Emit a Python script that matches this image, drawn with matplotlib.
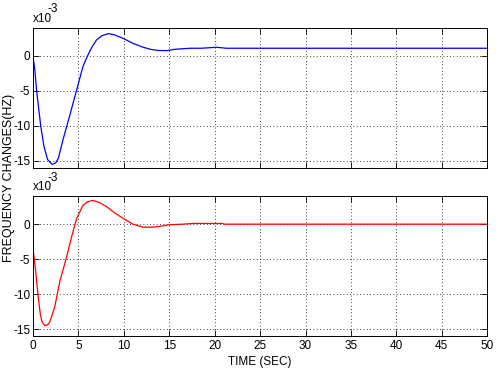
import matplotlib
matplotlib.use("Agg")
import matplotlib.pyplot as plt
from matplotlib.ticker import FuncFormatter
from matplotlib import font_manager

names = {f.name for f in font_manager.fontManager.ttflist}
narrow = "Liberation Sans Narrow" if "Liberation Sans Narrow" in names else "Liberation Sans"

# Time (s) and frequency change (Hz)
t_top = [0, 0.2, 0.4, 0.85, 1.2, 1.6, 2.1, 2.5, 2.8, 3.3, 4.07, 4.8, 5.5, 6.0, 6.5, 7.0,
         7.6, 8.3, 9.0, 9.95, 11.0, 12.0, 12.9, 13.8, 14.7, 15.6, 17.3, 18.5, 20.2, 21.3, 30, 40, 50]
f_top = [0, -2.0, -5.0, -10.0, -12.9, -14.8, -15.5, -15.3, -14.6, -12.0, -8.4, -4.9, -1.5, 0.0, 1.3, 2.3,
         2.9, 3.2, 3.0, 2.5, 1.8, 1.3, 0.95, 0.78, 0.76, 0.95, 1.1, 1.1, 1.24, 1.1, 1.1, 1.1, 1.1]
f_top = [v * 1e-3 for v in f_top]

t_bot = [0, 0.05, 0.3, 0.55, 0.8, 1.0, 1.3, 1.6, 1.85, 2.4, 2.95, 3.7, 4.25, 4.8, 5.5, 6.0, 6.6,
         7.3, 8.1, 9.0, 9.95, 11.0, 12.0, 12.9, 13.8, 14.9, 16.5, 17.65, 20.9, 21.0, 30, 40, 50]
f_bot = [-2.3, -4.0, -6.8, -10.1, -12.8, -14.0, -14.5, -14.4, -14.0, -11.8, -8.2, -4.7, -1.8, 0.8, 2.7, 3.2, 3.4,
         3.1, 2.5, 1.6, 0.8, 0.0, -0.4, -0.45, -0.35, -0.1, 0.0, 0.1, 0.1, 0.0, 0.0, 0.0, 0.0]
f_bot = [v * 1e-3 for v in f_bot]

x_ticks = [0, 5, 10, 15, 20, 25, 30, 35, 40, 45, 50]
y_ticks = [-0.015, -0.010, -0.005, 0.0]

fig = plt.figure(figsize=(5.03, 3.78), dpi=100)
ax1 = fig.add_axes([0.0656, 0.556, 0.903, 0.370])
ax2 = fig.add_axes([0.0656, 0.111, 0.903, 0.370])

ax1.plot(t_top, f_top, color="#0000ff", lw=0.9)
ax2.plot(t_bot, f_bot, color="#ff0000", lw=0.9)

fmt = FuncFormatter(lambda v, p: f"{v * 1e3:g}")
for ax in (ax1, ax2):
    ax.set_xlim(0, 50)
    ax.set_ylim(-0.016, 0.004)
    ax.set_xticks(x_ticks)
    ax.set_yticks(y_ticks)
    ax.yaxis.set_major_formatter(fmt)
    ax.grid(True, linestyle=(0, (1, 3)), color="black", lw=0.6)
    ax.tick_params(direction="in", top=True, right=True, length=4, width=0.6,
                   labelsize=8.5, pad=3)
    ax.tick_params(axis="y", pad=2)
    for lab in ax.get_xticklabels() + ax.get_yticklabels():
        lab.set_fontfamily(narrow)
    for s in ax.spines.values():
        s.set_linewidth(0.7)
    ax.text(0.0, 1.02, "x10", transform=ax.transAxes, fontsize=8.5, family=narrow,
            ha="left", va="bottom")
    ax.text(0.033, 1.09, "-3", transform=ax.transAxes, fontsize=8.5, family=narrow,
            ha="left", va="bottom")

ax1.tick_params(labelbottom=False)
ax2.set_xlabel("TIME (SEC)", fontsize=8.5, family=narrow, labelpad=3)
fig.text(0.017, 0.53, "FREQUENCY CHANGES(HZ)", rotation=90, fontsize=9,
         family="Liberation Sans", ha="center", va="center")

fig.savefig("out.png", dpi=100)
